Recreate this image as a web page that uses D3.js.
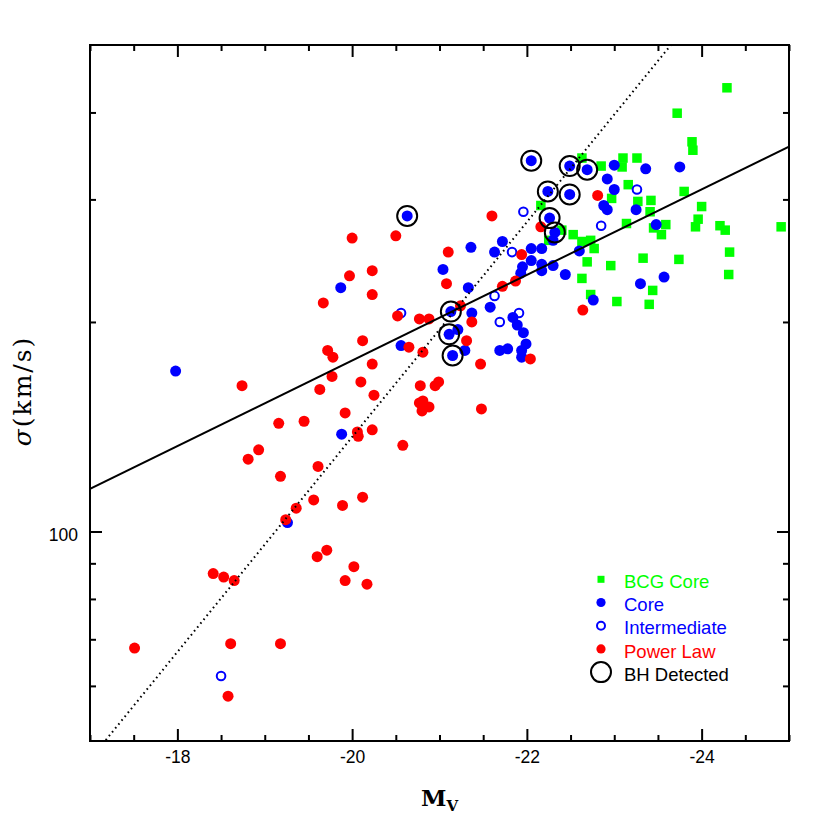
<!DOCTYPE html>
<html>
<head>
<meta charset="utf-8">
<script src="https://cdn.jsdelivr.net/npm/d3@7"></script>
<style>
body { margin: 0; background: #fff; }
svg { display: block; }
</style>
</head>
<body>
<svg width="830" height="830"></svg>
<script>
// data: [M_V, sigma (km/s)]
const bcgCore = [
	[-24.29,434],[-23.72,399],[-23.89,363],[-23.90,353],[-22.63,344],[-22.85,335],[-23.10,344],[-23.09,334],
	[-23.26,344],[-23.16,315],[-23.80,308],[-22.97,301],[-23.27,298],[-23.42,299],[-23.41,288],[-24.00,293],
	[-23.96,281],[-23.93,274],[-24.21,275],[-24.27,271],[-24.91,274],[-23.14,277],[-23.45,273],[-23.59,276],
	[-23.54,267],[-22.53,267],[-22.73,262],[-22.77,255],[-22.63,261],[-22.40,271],[-22.16,294],[-22.25,262],
	[-24.32,252],[-23.33,247],[-23.74,246],[-22.69,244],[-22.96,241],[-24.31,234],[-22.63,231],[-23.44,222],
	[-22.73,219],[-23.03,214],[-23.40,212]
];
const core = [
	[-22.05,341],[-22.49,335],[-22.69,331],[-22.24,308],[-22.49,305],[-22.26,282],[-22.32,269],[-20.63,284],
	[-21.13,207],[-21.11,192],[-21.15,179],
	[-23.00,336],[-23.36,332],[-23.75,334],[-22.92,321],[-23.00,310],[-22.88,294],[-22.92,290],[-23.25,290],
	[-23.48,276],[-22.30,262],[-21.72,261],[-21.63,252],[-22.05,255],[-22.17,255],[-21.36,256],[-22.60,253],
	[-21.04,238],[-21.95,240],[-22.05,245],[-21.93,235],[-22.17,242],[-22.17,237],[-22.30,241],[-22.44,234],
	[-23.57,232],[-23.30,227],[-21.33,224],[-22.76,215],[-21.58,210],[-21.37,206],[-21.84,203],[-21.89,198],
	[-21.96,193],[-21.21,195],[-21.29,182],[-21.69,182],[-21.78,183],[-21.94,182],[-21.94,178],[-21.99,186],
	[-20.56,185],[-19.87,224],[-17.98,170],[-19.88,138],[-19.26,103]
];
const intermediate = [
	[-21.96,288],[-22.85,275],[-23.26,310],[-21.83,252],[-21.63,218],[-21.91,206],[-21.69,200],[-20.56,206],
	[-18.50,62]
];
const powerLaw = [
	[-20.00,264],[-20.50,266],[-21.60,284],[-22.81,304],[-22.16,274],[-19.97,233],[-20.23,237],[-20.23,219],
	[-19.67,213],[-20.52,204],[-20.77,202],[-20.88,202],[-21.10,252],[-21.94,250],[-21.08,227],[-21.87,229],
	[-21.72,225],[-21.24,211],[-21.37,200],[-21.31,188],[-20.65,184],[-20.81,181],[-21.47,174],[-22.04,177],
	[-22.64,208],[-20.12,188],[-19.72,182],[-19.78,178],[-20.23,174],[-19.77,167],[-18.74,162],[-20.10,164],
	[-19.63,160],[-20.25,157],[-20.78,162],[-20.95,162],[-20.99,164],[-20.77,153],[-20.81,154],[-20.80,149],
	[-20.88,151],[-21.48,150],[-19.92,148],[-19.16,143],[-19.45,144],[-20.06,139],[-20.07,137],[-20.23,140],
	[-20.58,133],[-18.93,131],[-18.81,127],[-19.61,124],[-19.18,120],[-19.56,111],[-19.89,109],[-20.12,112],
	[-19.36,108],[-19.24,104],[-19.71,94],[-19.60,92],[-20.02,89],[-19.92,85],[-20.17,84],[-18.41,87],
	[-18.53,86],[-18.65,85],[-17.51,68],[-18.61,69],[-19.18,69],[-18.58,58]
];
const bhDetected = [
	[-22.05,341],[-22.49,335],[-22.69,331],[-22.24,308],[-22.49,305],[-22.26,282],[-22.32,269],[-20.63,284],
	[-21.13,207],[-21.11,192],[-21.15,179]
];

// log10(sigma) = a + b * M_V
const fitAll = [1.01577, -0.06149];     // solid
const fitSteep = [-0.95273, -0.15442];  // dotted

const xMajor = [-18, -20, -22, -24];
const xMinor = d3.range(-17, -25.01, -0.5).filter(d => xMajor.indexOf(d) < 0);
const yMajor = [100];
const yMinor = [60, 70, 80, 90, 200, 300, 400];

const legendLabels = ["BCG Core", "Core", "Intermediate", "Power Law", "BH Detected"];
const legendColors = ["#00ff00", "#0000ff", "#0000ff", "#ff0000", "#000000"];

const green = "#00ff00", blue = "#0000ff", red = "#ff0000";

var svg = d3.select("svg");
const pLeft = 90, pRight = 789, pTop = 45, pBottom = 741;

svg.append("rect").attr("width", 830).attr("height", 830).attr("fill", "white");

const x = d3.scaleLinear().domain([-17, -25]).range([pLeft, pRight]);
const y = d3.scaleLog().domain([50, 500]).range([pBottom, pTop]);

svg.append("clipPath").attr("id", "plot")
	.append("rect").attr("x", pLeft).attr("y", pTop).attr("width", pRight - pLeft).attr("height", pBottom - pTop);

const g = svg.append("g").attr("clip-path", "url(#plot)");

// BCG squares
const sq = 9.5;
g.selectAll(".bcg").data(bcgCore).enter()
	.append("rect")
	.attr("x", d => x(d[0]) - sq / 2)
	.attr("y", d => y(d[1]) - sq / 2)
	.attr("width", sq).attr("height", sq)
	.attr("fill", green);

g.selectAll(".core").data(core).enter()
	.append("circle")
	.attr("cx", d => x(d[0])).attr("cy", d => y(d[1])).attr("r", 5.5)
	.attr("fill", blue);

g.selectAll(".inter").data(intermediate).enter()
	.append("circle")
	.attr("cx", d => x(d[0])).attr("cy", d => y(d[1])).attr("r", 4.3)
	.attr("fill", "none").attr("stroke", blue).attr("stroke-width", 2);

g.selectAll(".pl").data(powerLaw).enter()
	.append("circle")
	.attr("cx", d => x(d[0])).attr("cy", d => y(d[1])).attr("r", 5.5)
	.attr("fill", red);

// fit lines
function fitLine(fit) {
	return x.domain().map(m => [m, Math.pow(10, fit[0] + fit[1] * m)]);
}
const line = d3.line().x(d => x(d[0])).y(d => y(d[1]));

g.append("path").datum(fitAll)
	.attr("d", f => line(fitLine(f)))
	.attr("fill", "none").attr("stroke", "black").attr("stroke-width", 2);

g.append("path").datum(fitSteep)
	.attr("d", f => line(fitLine(f)))
	.attr("fill", "none").attr("stroke", "black").attr("stroke-width", 2)
	.attr("stroke-dasharray", "1.6,3.4");

g.selectAll(".bh").data(bhDetected).enter()
	.append("circle")
	.attr("cx", d => x(d[0])).attr("cy", d => y(d[1])).attr("r", 10)
	.attr("fill", "none").attr("stroke", "black").attr("stroke-width", 2);

// axes
function styleAxis(sel) {
	sel.select(".domain").remove();
	sel.selectAll("line").attr("stroke", "black").attr("stroke-width", 2);
	sel.selectAll("text").attr("fill", "black")
		.style("font-family", "'Liberation Sans', Arial, sans-serif")
		.style("font-size", "17.5px");
}
const fmt = d => String(d);

svg.append("g").attr("transform", `translate(0,${pBottom})`)
	.call(d3.axisBottom(x).tickValues(xMajor).tickSize(-12).tickPadding(10).tickFormat(fmt)).call(styleAxis);
svg.append("g").attr("transform", `translate(0,${pBottom})`)
	.call(d3.axisBottom(x).tickValues(xMinor).tickSize(-6).tickFormat("")).call(styleAxis);
svg.append("g").attr("transform", `translate(0,${pTop})`)
	.call(d3.axisTop(x).tickValues(xMajor).tickSize(-12).tickFormat("")).call(styleAxis);
svg.append("g").attr("transform", `translate(0,${pTop})`)
	.call(d3.axisTop(x).tickValues(xMinor).tickSize(-6).tickFormat("")).call(styleAxis);

const gl = svg.append("g").attr("transform", `translate(${pLeft},0)`)
	.call(d3.axisLeft(y).tickValues(yMajor).tickSize(-12).tickPadding(12).tickFormat(fmt)).call(styleAxis);
gl.selectAll("text").attr("dy", "0.5em");
svg.append("g").attr("transform", `translate(${pLeft},0)`)
	.call(d3.axisLeft(y).tickValues(yMinor).tickSize(-6).tickFormat("")).call(styleAxis);
svg.append("g").attr("transform", `translate(${pRight},0)`)
	.call(d3.axisRight(y).tickValues(yMajor).tickSize(-12).tickFormat("")).call(styleAxis);
svg.append("g").attr("transform", `translate(${pRight},0)`)
	.call(d3.axisRight(y).tickValues(yMinor).tickSize(-6).tickFormat("")).call(styleAxis);

// frame
svg.append("rect")
	.attr("x", pLeft).attr("y", pTop).attr("width", pRight - pLeft).attr("height", pBottom - pTop)
	.attr("fill", "none").attr("stroke", "black").attr("stroke-width", 2);

// axis titles
const xt = svg.append("text")
	.attr("x", (pLeft + pRight) / 2).attr("y", 806)
	.attr("text-anchor", "middle")
	.style("font-family", "'DejaVu Serif', serif")
	.style("font-weight", "bold");
xt.append("tspan").style("font-size", "23px").text("M");
xt.append("tspan").style("font-size", "15px").attr("dy", 5).text("V");

const yt = svg.append("text")
	.attr("transform", "translate(31,391) rotate(-90)")
	.attr("text-anchor", "middle")
	.style("font-family", "'DejaVu Serif', serif")
	.style("font-size", "25px")
	.style("letter-spacing", "2px");
yt.append("tspan").style("font-style", "italic").text("σ");
yt.append("tspan").text("(km/s)");

// legend
const leg = svg.append("g");
legendLabels.forEach(function(name, i) {
	const my = 579.3 + i * 23.2;
	const mx = 601;
	if (i == 0) {
		leg.append("rect").attr("x", mx - 3.5).attr("y", my - 3.5).attr("width", 7).attr("height", 7).attr("fill", green);
	} else if (i == 1 || i == 3) {
		leg.append("circle").attr("cx", mx).attr("cy", my).attr("r", 4.6).attr("fill", legendColors[i]);
	} else if (i == 2) {
		leg.append("circle").attr("cx", mx).attr("cy", my).attr("r", 4).attr("fill", "none")
			.attr("stroke", blue).attr("stroke-width", 2);
	} else {
		leg.append("circle").attr("cx", mx).attr("cy", my).attr("r", 10).attr("fill", "none")
			.attr("stroke", "black").attr("stroke-width", 2);
	}
	leg.append("text")
		.attr("x", 624).attr("y", 588 + i * 23.2)
		.attr("fill", legendColors[i])
		.style("font-family", "'Liberation Sans', Arial, sans-serif")
		.style("font-size", "18.5px")
		.text(name);
});
</script>
</body>
</html>
